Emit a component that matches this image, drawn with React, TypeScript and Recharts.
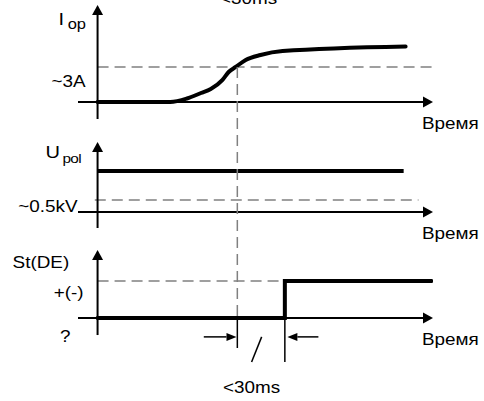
import type { ReactNode } from "react"
import { ComposedChart, Line, XAxis, YAxis, ReferenceLine, ReferenceDot } from "recharts"

// time axis (abstract units), shared by all three traces
const TIME_DOMAIN: [number, number] = [-7, 120]

// I_op rises through the ~3A threshold
const IOP_TIME = [0, 26, 32, 37, 40.5, 44.7, 46.9, 49.4, 53, 58.3, 66.2, 110.2]
const IOP_VALUE = [0, 0, 0.3, 0.77, 1.11, 1.89, 2.57, 3.0, 3.6, 4.03, 4.37, 4.76]
const IOP_THRESHOLD = 3

// U_pol stays above ~0.5kV
const UPOL_TIME = [0, 109.5]
const UPOL_VALUE = [1.71, 1.71]
const UPOL_THRESHOLD = 0.5

// St(DE) output steps up
const ST_TIME = [0, 67, 119.5]
const ST_VALUE = [0, 1, 1]
const ST_LEVEL = 1

const PICKUP_TIME = 50
const TRIP_TIME = 67
const TIME_LABEL = "Время"
const DELAY_LABEL = "<30ms"

const W = 484
const H = 401
const FONT = "'Liberation Sans', Arial, Helvetica, sans-serif"
const DASH = "11 6"
const GREY = "#808080"

type Band = { top: number; bottom: number; domain: [number, number] }
const BAND_I: Band = { top: 5, bottom: 119, domain: [-1.457, 8.31] }
const BAND_U: Band = { top: 142, bottom: 228, domain: [-0.667, 2.917] }
const BAND_ST: Band = { top: 250, bottom: 370, domain: [-1.405, 1.838] }

const zip = (t: number[], v: number[]) => t.map((x, i) => ({ t: x, v: v[i] }))
const iopData = zip(IOP_TIME, IOP_VALUE)
const upolData = zip(UPOL_TIME, UPOL_VALUE)
const stData = zip(ST_TIME, ST_VALUE)

const pyOf = (b: Band, v: number) =>
  b.top + ((b.domain[1] - v) / (b.domain[1] - b.domain[0])) * (b.bottom - b.top)
const valueAt = (b: Band, py: number) =>
  b.domain[1] - ((py - b.top) / (b.bottom - b.top)) * (b.domain[1] - b.domain[0])

// the pickup dashed line starts where I_op meets its threshold
const PICKUP_TOP = valueAt(BAND_ST, pyOf(BAND_I, IOP_THRESHOLD))

const arrow = (len = 10, half = 5.5, width = 2) => (p: any) => {
  const { x1, y1, x2, y2 } = p
  const a = Math.atan2(y2 - y1, x2 - x1)
  const c = Math.cos(a)
  const s = Math.sin(a)
  const bx = x2 - len * c
  const by = y2 - len * s
  return (
    <g>
      <line x1={x1} y1={y1} x2={bx} y2={by} stroke="#000" strokeWidth={width} />
      <polygon
        points={`${x2},${y2} ${bx - half * s},${by + half * c} ${bx + half * s},${by - half * c}`}
        fill="#000"
      />
    </g>
  )
}

const txt =
  (content: ReactNode, dx: number, dy: number, anchor: "start" | "middle" | "end" = "start", size = 16) =>
  (p: any) => (
    <g transform={`translate(${p.cx + dx},${p.cy + dy}) scale(1.18,1)`}>
      <text textAnchor={anchor} fontSize={size} fontFamily={FONT} fill="#000">
        {content}
      </text>
    </g>
  )

function Panel({ band, children }: { band: Band; children: ReactNode }) {
  return (
    <div style={{ position: "absolute", left: 0, top: 0, width: W, height: H }}>
      <ComposedChart
        width={W}
        height={H}
        margin={{ top: band.top, bottom: H - band.bottom, left: 78, right: 51 }}
      >
        <XAxis type="number" dataKey="t" domain={TIME_DOMAIN} allowDataOverflow hide />
        <YAxis type="number" dataKey="v" domain={band.domain} allowDataOverflow hide />
        {children}
      </ComposedChart>
    </div>
  )
}

const axes = (b: Band, yLow: number) => [
  <ReferenceLine
    key="x"
    segment={[{ x: TIME_DOMAIN[0], y: 0 }, { x: TIME_DOMAIN[1], y: 0 }]}
    ifOverflow="visible"
    shape={arrow()}
  />,
  <ReferenceLine
    key="y"
    segment={[{ x: 0, y: yLow }, { x: 0, y: b.domain[1] }]}
    ifOverflow="visible"
    shape={arrow()}
  />,
  <ReferenceDot key="tl" x={TIME_DOMAIN[1]} y={0} ifOverflow="visible" shape={txt(TIME_LABEL, -11, 27)} />,
]

export default function App() {
  return (
    <div style={{ position: "absolute", left: 0, top: 0, width: W, height: H, background: "#fff" }}>
      <Panel band={BAND_I}>
        <ReferenceLine
          segment={[{ x: 0, y: IOP_THRESHOLD }, { x: TIME_DOMAIN[1], y: IOP_THRESHOLD }]}
          ifOverflow="visible"
          stroke={GREY}
          strokeWidth={1.5}
          strokeDasharray={DASH}
        />
        {axes(BAND_I, BAND_I.domain[0])}
        <Line
          data={iopData}
          dataKey="v"
          type="monotone"
          stroke="#000"
          strokeWidth={4}
          strokeLinecap="round"
          dot={false}
          isAnimationActive={false}
        />
        <ReferenceDot
          x={0}
          y={BAND_I.domain[1]}
          ifOverflow="visible"
          shape={txt(
            <>
              <tspan fontSize={17}>I</tspan>
              <tspan dx={3} dy={4} fontSize={14}>
                op
              </tspan>
            </>,
            -39,
            20,
          )}
        />
        <ReferenceDot x={0} y={IOP_THRESHOLD} ifOverflow="visible" shape={txt("~3A", -12, 20, "end")} />
        <ReferenceDot x={54} y={BAND_I.domain[1]} ifOverflow="visible" shape={txt(DELAY_LABEL, 0, -1, "middle")} />
      </Panel>

      <Panel band={BAND_U}>
        <ReferenceLine
          segment={[{ x: -1, y: UPOL_THRESHOLD }, { x: 114.8, y: UPOL_THRESHOLD }]}
          ifOverflow="visible"
          stroke={GREY}
          strokeWidth={1.5}
          strokeDasharray={DASH}
        />
        {axes(BAND_U, BAND_U.domain[0])}
        <Line
          data={upolData}
          dataKey="v"
          type="linear"
          stroke="#000"
          strokeWidth={4}
          dot={false}
          isAnimationActive={false}
        />
        <ReferenceDot
          x={0}
          y={BAND_U.domain[1]}
          ifOverflow="visible"
          shape={txt(
            <>
              <tspan fontSize={17}>U</tspan>
              <tspan dx={2} dy={5} fontSize={13} letterSpacing={-0.5}>
                pol
              </tspan>
            </>,
            -52,
            16,
          )}
        />
        <ReferenceDot x={0} y={0} ifOverflow="visible" shape={txt("~0.5kV", -20, 0, "end")} />
      </Panel>

      <Panel band={BAND_ST}>
        <ReferenceLine
          segment={[{ x: PICKUP_TIME, y: PICKUP_TOP }, { x: PICKUP_TIME, y: 0 }]}
          ifOverflow="visible"
          stroke={GREY}
          strokeWidth={1.5}
          strokeDasharray={DASH}
        />
        <ReferenceLine
          segment={[{ x: 0, y: ST_LEVEL }, { x: TRIP_TIME, y: ST_LEVEL }]}
          ifOverflow="visible"
          stroke={GREY}
          strokeWidth={1.5}
          strokeDasharray={DASH}
        />
        {axes(BAND_ST, -0.46)}
        <Line
          data={stData}
          dataKey="v"
          type="stepAfter"
          stroke="#000"
          strokeWidth={4}
          strokeLinecap="round"
          dot={false}
          isAnimationActive={false}
        />
        {/* delay dimension */}
        <ReferenceLine
          segment={[{ x: PICKUP_TIME, y: 0 }, { x: PICKUP_TIME, y: -0.81 }]}
          ifOverflow="visible"
          stroke="#000"
          strokeWidth={1.5}
        />
        <ReferenceLine
          segment={[{ x: TRIP_TIME, y: 0 }, { x: TRIP_TIME, y: -1.19 }]}
          ifOverflow="visible"
          stroke="#000"
          strokeWidth={1.5}
        />
        <ReferenceLine
          segment={[{ x: 38, y: -0.51 }, { x: PICKUP_TIME - 0.3, y: -0.51 }]}
          ifOverflow="visible"
          shape={arrow(10, 4, 1.5)}
        />
        <ReferenceLine
          segment={[{ x: 79, y: -0.51 }, { x: TRIP_TIME + 0.9, y: -0.51 }]}
          ifOverflow="visible"
          shape={arrow(10, 4, 1.5)}
        />
        <ReferenceLine
          segment={[{ x: 55.1, y: -1.19 }, { x: 58.7, y: -0.51 }]}
          ifOverflow="visible"
          stroke="#000"
          strokeWidth={1.5}
        />
        <ReferenceDot x={0} y={BAND_ST.domain[1]} ifOverflow="visible" shape={txt("St(DE)", -85, 18)} />
        <ReferenceDot x={0} y={ST_LEVEL} ifOverflow="visible" shape={txt("+(-)", -14, 17, "end")} />
        <ReferenceDot x={0} y={0} ifOverflow="visible" shape={txt("?", -27, 24, "end")} />
        <ReferenceDot x={55.1} y={-1.19} ifOverflow="visible" shape={txt(DELAY_LABEL, 0, 31, "middle")} />
      </Panel>
    </div>
  )
}
